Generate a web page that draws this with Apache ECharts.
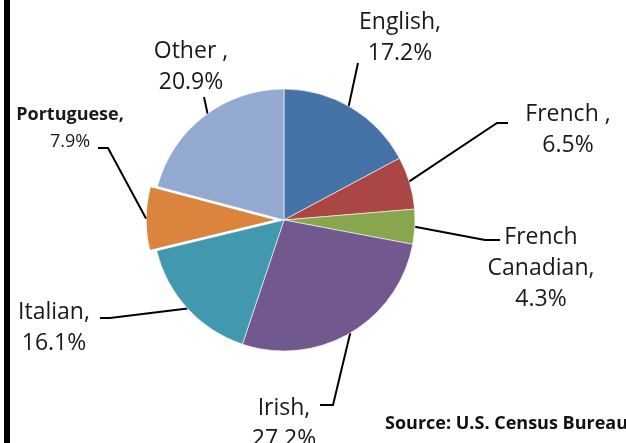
<!DOCTYPE html>
<html><head><meta charset="utf-8">
<script src="https://cdn.jsdelivr.net/npm/echarts@6/dist/echarts.min.js"></script>
<style>html,body{margin:0;padding:0;background:#fff}#c{width:626px;height:443px}</style>
</head><body><div id="c"></div>
<script>
// ---- data ----
const categories = ['English', 'French', 'French Canadian', 'Irish', 'Italian', 'Portuguese', 'Other'];
const labelNames = ['English,', 'French ,', 'French\nCanadian,', 'Irish,', 'Italian,', 'Portuguese,', 'Other ,'];
const shares = [17.2, 6.5, 4.3, 27.2, 16.1, 7.9, 20.9];
const sourceText = 'Source: U.S. Census Bureau';

// ---- style / layout ----
const colors = ['#4572A7', '#AA4643', '#89A54E', '#71588F', '#4198AF', '#DB843D', '#93A9CF'];
const CX = 284, CY = 220, R = 131, EXPLODE = 7;
const explodedIndex = 5;
const lineInset = [9, 5, 0, 0, 0, 0, 9];
const labelCenters = [[400, 38], [568, 130], [541, 268], [284, 424], [54, 328], [70, 128], [191, 67]];
const elbows = [
  [[358, 63], [358, 63]],
  [[497, 123], [508, 123]],
  [[485, 240], [500, 240]],
  [[333, 405], [320, 405]],
  [[110, 318], [100, 318]],
  [[108, 148], [98, 148]],
  [[204, 97], [204, 97]]
];
const FONT = '"Open Sans", "Liberation Sans", sans-serif';
const TXT = '#1a1a1a';

const total = shares.reduce((a, b) => a + b, 0);
function midAngle(i) {
  let cum = 0;
  for (let k = 0; k < i; k++) cum += shares[k];
  return (cum + shares[i] / 2) / total * 2 * Math.PI;
}
function edgePoint(i) {
  const a = midAngle(i);
  const rr = R + (i === explodedIndex ? EXPLODE : 0) - lineInset[i];
  return [CX + rr * Math.sin(a), CY - rr * Math.cos(a)];
}
const exA = midAngle(explodedIndex);
const exCenter = [CX + EXPLODE * Math.sin(exA), CY - EXPLODE * Math.cos(exA)];

// main series: all slices (exploded slice drawn by second series)
const mainData = categories.map((c, i) => {
  const item = {
    name: c,
    value: shares[i],
    itemStyle: { color: i === explodedIndex ? 'rgba(0,0,0,0)' : colors[i], borderWidth: i === explodedIndex ? 0 : 0.6 },
    label: { formatter: labelNames[i] + '\n' + shares[i].toFixed(1) + '%' }
  };
  if (i === explodedIndex) {
    item.label = {
      formatter: '{b|' + labelNames[i] + '}\n{v|' + shares[i].toFixed(1) + '%}',
      rich: {
        b: { fontFamily: FONT, fontWeight: 'bold', fontSize: 18, color: TXT, lineHeight: 27, align: 'center' },
        v: { fontFamily: FONT, fontSize: 18, color: TXT, lineHeight: 27, align: 'center' }
      }
    };
  }
  return item;
});
const explodedData = categories.map((c, i) => ({
  name: c,
  value: shares[i],
  itemStyle: i === explodedIndex
    ? { color: colors[i], borderColor: '#fff', borderWidth: 1.2 }
    : { color: 'rgba(0,0,0,0)', borderWidth: 0 }
}));

const chart = echarts.init(document.getElementById('c'), null, { renderer: 'canvas' });
chart.setOption({
  backgroundColor: '#fff',
  animation: false,
  graphic: [
    { type: 'rect', left: 4, top: 0, shape: { width: 6, height: 443 }, style: { fill: '#000' } },
    { type: 'text', left: 385, top: 415, style: { text: sourceText, font: 'bold 18px ' + FONT, fill: '#111' } }
  ],
  series: [{
    type: 'pie',
    center: [CX, CY],
    radius: R,
    startAngle: 90,
    clockwise: true,
    avoidLabelOverlap: false,
    silent: true,
    itemStyle: { borderColor: '#fff', borderWidth: 0.6 },
    label: {
      show: true,
      position: 'outside',
      fontFamily: FONT,
      fontSize: 23,
      lineHeight: 31,
      color: TXT,
      align: 'center'
    },
    labelLine: { show: true, length: 10, length2: 10, lineStyle: { color: '#000', width: 2 } },
    labelLayout: function (p) {
      const i = p.dataIndex;
      return {
        x: labelCenters[i][0],
        y: labelCenters[i][1],
        align: 'center',
        verticalAlign: 'middle',
        labelLinePoints: [edgePoint(i), elbows[i][0], elbows[i][1]]
      };
    },
    emphasis: { disabled: true },
    data: mainData
  }, {
    type: 'pie',
    center: exCenter,
    radius: R,
    startAngle: 90,
    clockwise: true,
    silent: true,
    z: 1,
    label: { show: false },
    labelLine: { show: false },
    emphasis: { disabled: true },
    data: explodedData
  }]
});
</script></body></html>
